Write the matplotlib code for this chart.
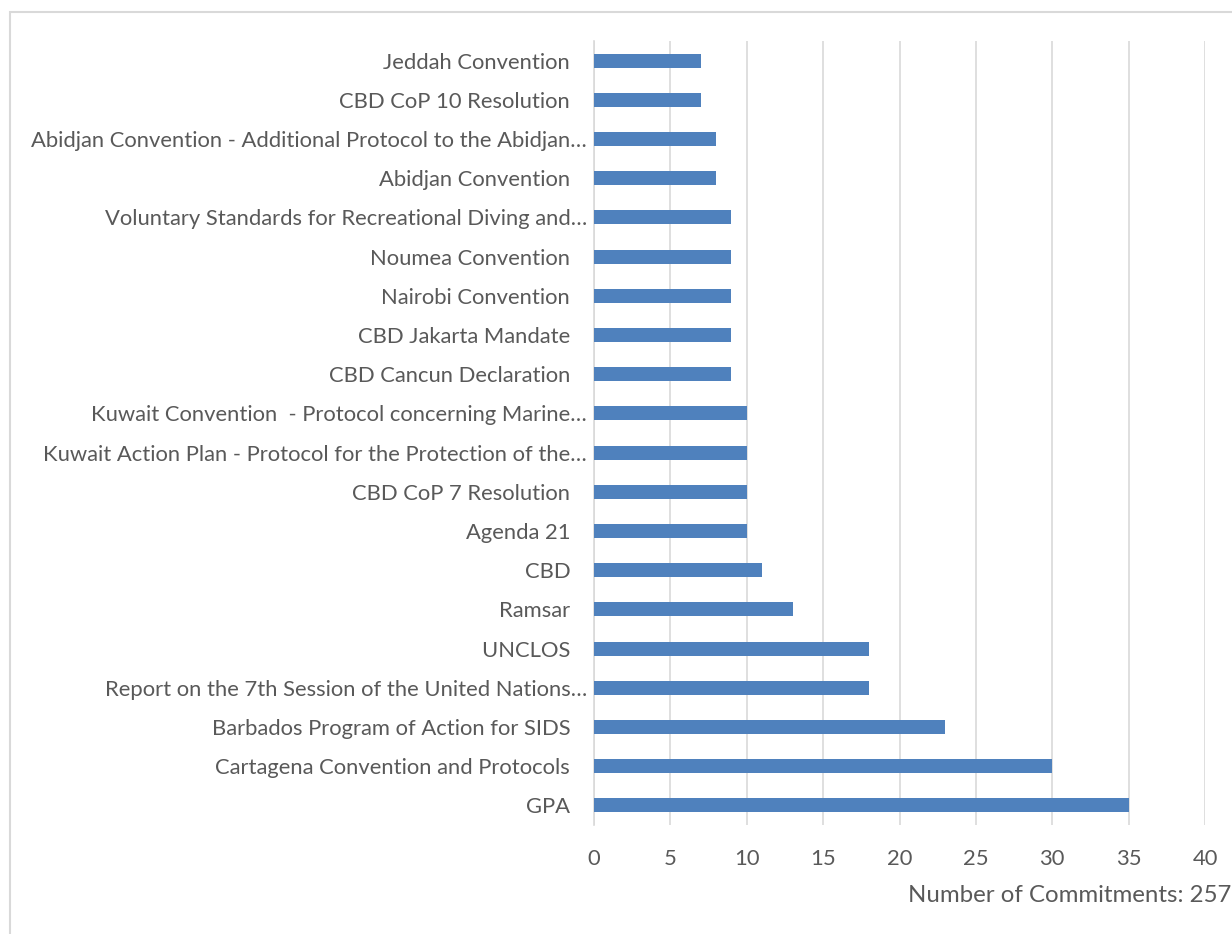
import matplotlib
matplotlib.use("Agg")
import matplotlib.pyplot as plt
from matplotlib.patches import Rectangle

categories = [
    "GPA",
    "Cartagena Convention and Protocols",
    "Barbados Program of Action for SIDS",
    "Report on the 7th Session of the United Nations…",
    "UNCLOS",
    "Ramsar",
    "CBD",
    "Agenda 21",
    "CBD CoP 7 Resolution",
    "Kuwait Action Plan - Protocol for the Protection of the…",
    "Kuwait Convention  - Protocol concerning Marine…",
    "CBD Cancun Declaration",
    "CBD Jakarta Mandate",
    "Nairobi Convention",
    "Noumea Convention",
    "Voluntary Standards for Recreational Diving and…",
    "Abidjan Convention",
    "Abidjan Convention - Additional Protocol to the Abidjan…",
    "CBD CoP 10 Resolution",
    "Jeddah Convention",
]
values = [35, 30, 23, 18, 18, 13, 11, 10, 10, 10, 10, 9, 9, 9, 9, 9, 8, 8, 7, 7]
xticks = [0, 5, 10, 15, 20, 25, 30, 35, 40]
xlabel_text = "Number of Commitments: 257"

plt.rcParams['font.family'] = ['Lato', 'DejaVu Sans']
text_color = "#595959"
fs = 15.8

fig = plt.figure(figsize=(12.32, 9.34), dpi=100)
fig.patches.append(Rectangle((10/1232, -0.1), 1.2, 1 - 12/934 + 0.1,
                             transform=fig.transFigure, fill=False,
                             edgecolor="#d9d9d9", linewidth=1.5, zorder=0))
ax = fig.add_axes([594/1232, 1 - 825/934, (1205 - 594)/1232, (825 - 41)/934])

labels = [c if c.endswith("…") else c + "   " for c in categories]
ypos = list(range(len(categories)))
ax.barh(ypos, values, height=0.36, color="#4f81bd", zorder=3)
ax.set_ylim(-0.5, len(categories) - 0.5)
ax.set_xlim(0, 40)
ax.set_yticks(ypos)
ax.set_yticklabels(labels, fontsize=fs, color=text_color)
ax.set_xticks(xticks)
ax.set_xticklabels([str(t) for t in xticks], fontsize=fs, color=text_color)
ax.tick_params(axis='y', length=0, pad=5)
ax.tick_params(axis='x', length=0, pad=17)
ax.grid(axis='x', color="#d9d9d9", linewidth=1.2, zorder=0)
for s in ["top", "right", "bottom"]:
    ax.spines[s].set_visible(False)
ax.spines["left"].set_color("#d9d9d9")
ax.spines["left"].set_linewidth(1.2)

fig.text(1231/1232, 1 - 895/934, xlabel_text, ha="right", va="center",
         fontsize=17.3, color=text_color)

fig.savefig("out.png", dpi=100)
